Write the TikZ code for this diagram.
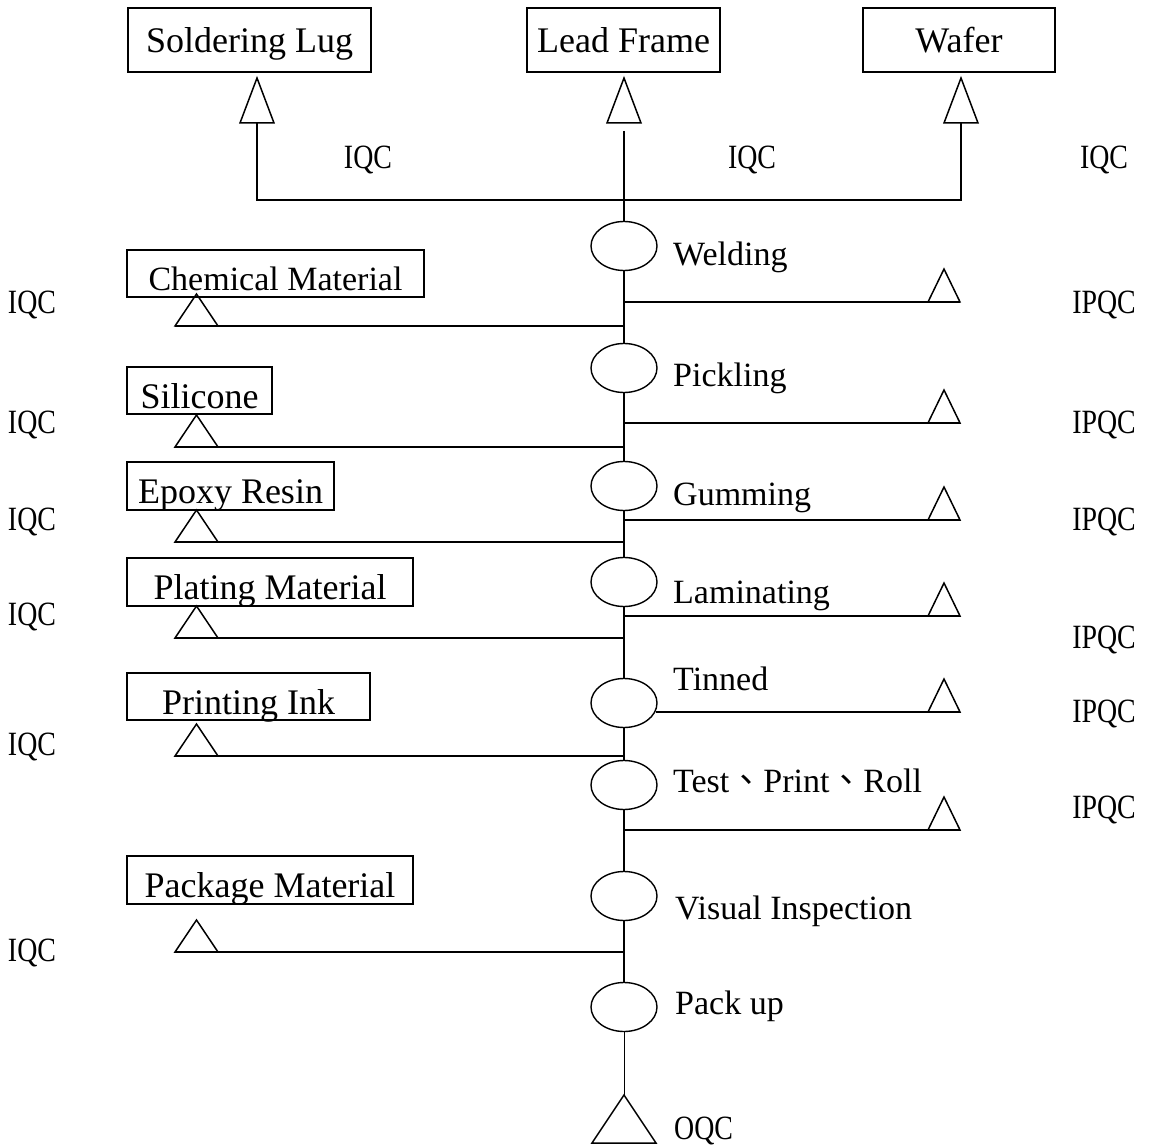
\documentclass[tikz,border=0pt]{standalone}
\usepackage{fontspec}
\setmainfont{Liberation Serif}
\newfontfamily\qcfont[FakeStretch=0.82]{Liberation Serif}
\newfontfamily\cjk{Noto Sans CJK TC}
\usetikzlibrary{shapes.geometric}

\tikzset{
  flow/.style={line width=1.8pt},
  thinflow/.style={line width=0.9pt},
  tri/.style={line width=1.5pt,line join=miter},
  srcbox/.style={draw,line width=1.4pt,inner sep=0pt,minimum height=64pt,
    text height=26pt,text depth=0pt,font=\fontsize{36}{40}\selectfont},
  matbox/.style={draw,line width=1.2pt,inner sep=0pt,
    text height=35pt,text depth=0pt,font=\fontsize{36}{40}\selectfont},
  proc/.style={ellipse,draw,line width=1.4pt,minimum width=66pt,
    minimum height=49pt,inner sep=0pt},
  steplbl/.style={anchor=base west,inner sep=0pt,font=\fontsize{34}{40}\selectfont},
  qclbl/.style={anchor=base,inner sep=0pt,font=\qcfont\fontsize{34}{40}\selectfont},
  qcup/.pic={\draw[tri] (-17,0) -- (17,0) -- (0,-45) -- cycle;},
  qcright/.pic={\draw[tri] (-32,0) -- (0,0) -- (-16,-33) -- cycle;},
  qcleft/.pic={\draw[tri] (0,0) -- (43,0) -- (21.5,-32) -- cycle;},
  qcout/.pic={\draw[tri] (0,0) -- (-32,48) -- (32,48) -- cycle;},
}

\begin{document}
\begin{tikzpicture}[x=1pt,y=-1pt,line cap=butt]
  \useasboundingbox (0,0) rectangle (1151,1147);
  % incoming materials on top
  \node[srcbox,minimum width=243pt] (lug) at (249.5,40) {Soldering Lug};
  \node[srcbox,minimum width=193pt] (frame) at (623.5,40) {Lead Frame};
  \node[srcbox,minimum width=192pt] (wafer) at (959,40) {Wafer};
  \coordinate (lugq) at (257,123);
  \coordinate (frameq) at (624,123);
  \coordinate (waferq) at (961,123);
  \coordinate (spine) at (624,131);
  \coordinate (join) at (624,200);
  \pic at (lugq) {qcup};
  \pic at (frameq) {qcup};
  \pic at (waferq) {qcup};
  \draw[flow] (lugq) |- (join) -| (waferq);
  \node[qclbl] (iqctop1) at (368,169) {IQC};
  \node[qclbl] (iqctop2) at (752,169) {IQC};
  \node[qclbl] (iqctop3) at (1104,169) {IQC};

  % process steps
  \node[proc] (weld) at (624,246) {};
  \node[proc] (pickle) at (624,368) {};
  \node[proc] (gum) at (624,486) {};
  \node[proc] (lamin) at (624,582) {};
  \node[proc] (tin) at (624,703) {};
  \node[proc] (test) at (624,785) {};
  \node[proc] (visual) at (624,896) {};
  \node[proc] (pack) at (624,1007) {};
  \draw[flow] (spine) -- (weld) -- (pickle) -- (gum) -- (lamin) -- (tin)
    -- (test) -- (visual) -- (pack);
  \coordinate (oqc) at (624,1095);
  \pic at (oqc) {qcout};
  \draw[thinflow] (pack) -- (oqc);

  \node[steplbl] (weldtxt) at (673,266) {Welding};
  \node[steplbl] (pickletxt) at (673,386) {Pickling};
  \node[steplbl] (gumtxt) at (673,505) {Gumming};
  \node[steplbl] (lamintxt) at (673,603) {Laminating};
  \node[steplbl] (tintxt) at (673,690) {Tinned};
  \node[steplbl] (testtxt) at (673,792) {Test{\cjk 、}Print{\cjk 、}Roll};
  \node[steplbl] (visualtxt) at (675,919) {Visual Inspection};
  \node[steplbl] (packtxt) at (675,1014) {Pack up};
  \node[qclbl,anchor=base west] (oqctxt) at (674,1139) {OQC};

  % in-process checks on the right
  \coordinate (pq1) at (960,302);
  \coordinate (pq2) at (960,423);
  \coordinate (pq3) at (960,520);
  \coordinate (pq4) at (960,616);
  \coordinate (pq5) at (960,712);
  \coordinate (pq6) at (960,830);
  \pic at (pq1) {qcright};
  \pic at (pq2) {qcright};
  \pic at (pq3) {qcright};
  \pic at (pq4) {qcright};
  \pic at (pq5) {qcright};
  \pic at (pq6) {qcright};
  \draw[flow] (weld |- pq1) -- (pq1);
  \draw[flow] (pickle |- pq2) -- (pq2);
  \draw[flow] (gum |- pq3) -- (pq3);
  \draw[flow] (lamin |- pq4) -- (pq4);
  \draw[flow] ([xshift=-2pt]tin.east |- pq5) -- (pq5);
  \draw[flow] (test |- pq6) -- (pq6);
  \node[qclbl] (ipqc1) at (1104,314) {IPQC};
  \node[qclbl] (ipqc2) at (1104,433) {IPQC};
  \node[qclbl] (ipqc3) at (1104,530) {IPQC};
  \node[qclbl] (ipqc4) at (1104,648) {IPQC};
  \node[qclbl] (ipqc5) at (1104,722) {IPQC};
  \node[qclbl] (ipqc6) at (1104,818) {IPQC};

  % auxiliary materials on the left
  \node[matbox,minimum width=297pt,minimum height=47pt,font=\fontsize{34}{40}\selectfont]
    (chem) at (275.5,273.5) {Chemical Material};
  \node[matbox,minimum width=145pt,minimum height=47pt] (silicone) at (199.5,390.5) {Silicone};
  \node[matbox,minimum width=207pt,minimum height=48pt] (epoxy) at (230.5,486) {Epoxy Resin};
  \node[matbox,minimum width=286pt,minimum height=48pt] (plating) at (270,582) {Plating Material};
  \node[matbox,minimum width=243pt,minimum height=47pt] (ink) at (248.5,696.5) {Printing Ink};
  \node[matbox,minimum width=286pt,minimum height=48pt] (package) at (270,880) {Package Material};
  \coordinate (iq1) at (175,326);
  \coordinate (iq2) at (175,447);
  \coordinate (iq3) at (175,542);
  \coordinate (iq4) at (175,638);
  \coordinate (iq5) at (175,756);
  \coordinate (iq6) at (175,952);
  \pic at (iq1) {qcleft};
  \pic at (iq2) {qcleft};
  \pic at (iq3) {qcleft};
  \pic at (iq4) {qcleft};
  \pic at (iq5) {qcleft};
  \pic at (iq6) {qcleft};
  \draw[flow] (weld |- iq1) -- (iq1);
  \draw[flow] (pickle |- iq2) -- (iq2);
  \draw[flow] (gum |- iq3) -- (iq3);
  \draw[flow] (lamin |- iq4) -- (iq4);
  \draw[flow] (tin |- iq5) -- (iq5);
  \draw[flow] (visual |- iq6) -- (iq6);
  \node[qclbl] (iqc1) at (32,314) {IQC};
  \node[qclbl] (iqc2) at (32,433) {IQC};
  \node[qclbl] (iqc3) at (32,530) {IQC};
  \node[qclbl] (iqc4) at (32,625) {IQC};
  \node[qclbl] (iqc5) at (32,755) {IQC};
  \node[qclbl] (iqc6) at (32,961) {IQC};
\end{tikzpicture}
\end{document}
